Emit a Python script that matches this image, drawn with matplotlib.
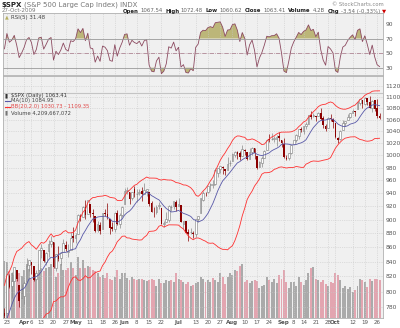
import numpy as np
import pandas as pd
import matplotlib
matplotlib.use("Agg")
import matplotlib.pyplot as plt

# closes before the visible window (Feb 13 - Mar 19 2009), only to warm up MA/BB/RSI
pre_close = [826.84, 789.17, 788.42, 778.94, 770.05, 743.33, 773.14, 764.90, 752.83,
             735.09, 700.82, 696.33, 712.87, 682.55, 683.38, 676.53, 719.60, 721.36,
             750.74, 756.55, 753.89, 778.12, 794.35, 784.04]

holidays = ['2009-04-10', '2009-05-25', '2009-07-03', '2009-09-07']

opens = [772.2, 772.3, 820.6, 806.8, 814.5, 828.7, 809.1, 790.9, 793.6, 814.5,
         835.1, 839.8, 834.1, 816.8, 829.3, 855.9, 856.9, 839.4, 854.5, 865.2,
         868.3, 831.3, 847.3, 844.6, 853.9, 862.8, 854.1, 856.9, 876.6, 872.7,
         879.2, 906.1, 903.9, 919.6, 909.0, 922.9, 910.5, 905.4, 884.2, 892.8,
         886.1, 909.7, 908.6, 900.4, 888.7, 887.0, 909.9, 892.9, 907.0, 923.3,
         942.9, 942.5, 932.5, 945.7, 938.1, 940.4, 942.7, 939.0, 943.4, 942.5,
         925.6, 911.9, 910.9, 919.9, 918.1, 893.5, 896.3, 899.5, 918.8, 919.9,
         927.1, 920.8, 921.2, 894.3, 898.6, 881.9, 881.3, 880.0, 879.6, 900.8,
         910.2, 930.2, 940.6, 942.1, 951.9, 953.4, 954.1, 972.2, 978.6, 981.5,
         977.7, 976.0, 986.8, 990.2, 1001.4, 1005.4, 1004.1, 999.8, 1008.9, 1005.8,
         994.0, 1005.9, 1012.2, 998.2, 980.6, 986.9, 996.4, 1009.1, 1026.6, 1026.6,
         1027.4, 1027.8, 1031.6, 1025.2, 1019.5, 996.1, 996.1, 1003.8, 1018.7, 1025.4,
         1032.9, 1043.9, 1040.2, 1049.0, 1053.0, 1067.9, 1066.6, 1067.1, 1066.4, 1072.7,
         1062.6, 1049.5, 1045.4, 1063.7, 1061.0, 1054.9, 1029.7, 1026.9, 1042.0, 1053.7,
         1060.0, 1065.3, 1071.6, 1074.8, 1078.7, 1090.4, 1094.7, 1088.2, 1098.6, 1091.9,
         1080.4, 1095.6, 1080.4, 1067.54]
highs = [779.0, 823.4, 823.7, 826.0, 832.9, 828.7, 809.1, 810.5, 813.6, 845.6,
         842.5, 839.8, 834.1, 828.4, 856.9, 864.3, 856.9, 852.9, 870.4, 875.6,
         868.3, 850.1, 861.8, 852.9, 871.8, 868.8, 864.5, 882.1, 888.7, 880.5,
         907.9, 907.7, 920.3, 929.6, 930.2, 922.9, 915.6, 905.4, 898.4, 896.9,
         910.0, 916.4, 924.6, 900.4, 896.7, 911.8, 913.8, 909.5, 920.0, 947.8,
         949.4, 942.5, 942.5, 951.7, 946.3, 946.9, 949.8, 956.2, 946.3, 942.5,
         928.0, 918.4, 921.9, 927.1, 918.1, 898.7, 910.9, 921.4, 922.0, 927.1,
         930.0, 931.9, 921.2, 898.7, 898.6, 886.8, 887.9, 883.6, 901.1, 905.8,
         933.0, 943.0, 941.9, 951.6, 956.5, 959.8, 979.4, 979.8, 982.5, 982.4,
         977.8, 996.7, 993.2, 1003.6, 1007.1, 1006.6, 1008.0, 1018.0, 1010.1, 1005.8,
         1012.8, 1013.1, 1012.6, 998.2, 991.2, 999.6, 1008.9, 1027.6, 1035.8, 1037.8,
         1032.5, 1033.3, 1039.5, 1025.2, 1028.5, 1000.3, 1003.4, 1016.5, 1026.1, 1036.3,
         1044.1, 1048.2, 1049.7, 1056.0, 1068.8, 1074.8, 1071.5, 1067.3, 1073.8, 1080.2,
         1066.3, 1053.5, 1065.1, 1069.6, 1063.4, 1054.9, 1030.6, 1042.6, 1060.6, 1058.0,
         1070.7, 1071.5, 1079.5, 1075.3, 1093.2, 1096.6, 1094.7, 1100.2, 1098.6, 1101.4,
         1095.2, 1095.8, 1097.4, 1072.48]
lows = [759.1, 772.3, 805.0, 791.4, 814.5, 813.4, 779.8, 790.9, 783.3, 814.5,
        826.7, 822.8, 814.5, 814.8, 829.3, 845.4, 840.1, 835.6, 847.0, 860.9,
        831.0, 826.8, 840.6, 835.6, 853.9, 854.7, 847.1, 856.9, 868.3, 866.1,
        879.2, 897.3, 903.9, 901.4, 909.0, 903.8, 896.5, 882.5, 882.5, 878.9,
        886.1, 905.2, 901.4, 879.6, 883.8, 881.5, 891.9, 887.6, 903.6, 923.3,
        938.5, 923.9, 929.3, 934.1, 926.4, 936.7, 927.4, 939.0, 935.7, 919.7,
        911.6, 903.8, 907.9, 915.8, 893.0, 888.9, 896.3, 896.3, 913.0, 916.2,
        912.9, 920.8, 896.4, 886.4, 879.9, 869.3, 878.5, 872.8, 875.3, 896.5,
        910.2, 927.5, 934.9, 940.9, 943.2, 947.8, 953.3, 965.9, 972.3, 969.4,
        968.7, 976.0, 982.9, 990.2, 996.7, 994.3, 992.5, 999.8, 1000.9, 992.4,
        993.4, 1000.8, 994.6, 978.5, 980.6, 980.6, 996.4, 1009.1, 1022.5, 1026.2,
        1021.6, 1016.2, 1023.1, 1014.6, 996.3, 991.9, 992.3, 1001.7, 1018.7, 1023.0,
        1028.0, 1038.4, 1035.0, 1043.4, 1052.9, 1061.0, 1064.3, 1057.5, 1066.4, 1060.4,
        1045.9, 1041.2, 1045.4, 1057.8, 1046.5, 1029.4, 1019.9, 1025.9, 1042.0, 1050.0,
        1060.0, 1063.0, 1071.6, 1067.0, 1078.7, 1086.4, 1081.5, 1086.1, 1086.2, 1080.8,
        1074.3, 1075.3, 1063.2, 1060.62]
closes = [768.54, 822.92, 806.12, 813.88, 832.86, 815.94, 787.53, 797.87, 811.08, 834.38,
          842.50, 835.48, 815.55, 825.16, 856.56, 858.73, 841.50, 852.06, 865.30, 869.60,
          832.39, 850.08, 843.55, 851.92, 866.23, 857.51, 855.16, 873.64, 872.81, 877.52,
          907.24, 903.80, 919.53, 907.39, 929.23, 909.24, 908.35, 883.92, 893.07, 882.88,
          909.71, 908.13, 903.47, 888.33, 887.00, 910.33, 893.06, 906.83, 919.14, 942.87,
          944.74, 931.76, 942.46, 940.09, 939.14, 942.43, 939.15, 944.89, 946.21, 923.72,
          911.97, 910.71, 918.37, 921.23, 893.04, 895.10, 900.94, 920.26, 918.90, 927.23,
          919.32, 923.33, 896.42, 898.72, 881.03, 879.56, 882.68, 879.13, 901.05, 905.84,
          932.68, 940.74, 940.38, 951.13, 954.58, 954.07, 976.29, 979.26, 982.18, 979.62,
          975.15, 986.75, 987.48, 1002.63, 1005.65, 1002.72, 997.08, 1010.48, 1007.10, 994.35,
          1005.81, 1012.73, 1004.09, 979.73, 989.67, 996.46, 1007.37, 1026.13, 1025.57, 1028.00,
          1028.12, 1030.98, 1028.93, 1020.62, 998.04, 994.75, 1003.24, 1016.40, 1025.39, 1033.37,
          1044.14, 1042.73, 1049.34, 1052.63, 1068.76, 1065.49, 1068.30, 1064.66, 1071.66, 1060.87,
          1050.78, 1044.38, 1062.98, 1060.61, 1057.08, 1029.85, 1025.21, 1040.46, 1054.72, 1057.58,
          1065.48, 1071.49, 1076.19, 1073.19, 1092.02, 1096.56, 1087.68, 1097.91, 1091.06, 1081.40,
          1092.91, 1079.60, 1066.95, 1063.41]
volume_bn = [6.4, 6.3, 5.2, 5.0, 4.8, 4.5, 5.0, 4.7, 5.3, 6.0,
             5.5, 4.4, 4.2, 5.0, 6.0, 5.6, 5.2, 5.6, 5.7, 6.0,
             5.9, 4.6, 5.0, 6.0, 5.4, 5.4, 5.6, 6.2, 5.6, 4.8,
             6.8, 5.6, 6.5, 5.6, 5.8, 5.7, 5.4, 5.2, 5.0, 4.6,
             4.8, 4.5, 5.0, 4.4, 4.2, 4.6, 5.4, 4.4, 5.0, 5.0,
             4.5, 4.2, 4.6, 4.4, 4.2, 4.3, 4.4, 4.2, 4.1, 4.2,
             4.4, 4.2, 3.6, 4.4, 3.9, 3.9, 4.2, 4.1, 4.2, 4.0,
             5.0, 4.4, 4.2, 4.0, 3.8, 4.0, 3.6, 3.7, 3.9, 4.0,
             4.6, 4.4, 4.0, 4.2, 4.0, 4.5, 4.2, 4.0, 5.0, 4.6,
             3.8, 4.6, 5.0, 4.8, 5.4, 5.2, 5.8, 6.0, 4.0, 4.2,
             3.9, 4.1, 4.2, 4.1, 3.4, 3.6, 3.7, 4.6, 4.2, 4.0,
             4.4, 3.9, 4.8, 4.4, 5.4, 4.0, 3.3, 4.0, 4.0, 3.6,
             4.6, 4.0, 3.7, 4.2, 5.0, 5.6, 5.7, 4.4, 4.2, 4.0,
             4.2, 3.8, 3.6, 4.0, 3.9, 5.0, 4.8, 4.2, 3.4, 3.6,
             3.2, 3.5, 2.9, 3.1, 3.6, 4.3, 4.2, 4.0, 3.5, 4.4,
             4.1, 4.4, 4.3, 4.21]

tick_dates = ['2009-03-23', '2009-04-01', '2009-04-06', '2009-04-13', '2009-04-20', '2009-04-27',
              '2009-05-01', '2009-05-11', '2009-05-18', '2009-05-26', '2009-06-01', '2009-06-08',
              '2009-06-15', '2009-06-22', '2009-07-01', '2009-07-13', '2009-07-20', '2009-07-27',
              '2009-08-03', '2009-08-10', '2009-08-17', '2009-08-24', '2009-09-01', '2009-09-08',
              '2009-09-14', '2009-09-21', '2009-09-28', '2009-10-01', '2009-10-12', '2009-10-19',
              '2009-10-26']
tick_labels = ['23', 'Apr', '6', '13', '20', '27', 'May', '11', '18', '26', 'Jun', '8', '15', '22',
               'Jul', '13', '20', '27', 'Aug', '10', '17', '24', 'Sep', '8', '14', '21', '28',
               'Oct', '12', '19', '26']

price_ticks = list(range(780, 1121, 20))
rsi_ticks = [30, 50, 70, 90]

days = pd.bdate_range('2009-03-20', '2009-10-27')
days = days[~days.isin(pd.to_datetime(holidays))]
n = len(days)
x = np.arange(n)
o = np.array(opens); h = np.array(highs); l = np.array(lows); c = np.array(closes)
vol = np.array(volume_bn)

# indicators as listed in the legend
allc = pd.Series(pre_close + closes)
ma10 = allc.rolling(10).mean().values[-n:]
mid = allc.rolling(20).mean()
sd = allc.rolling(20).std(ddof=0)
bb_up = (mid + 2 * sd).values[-n:]
bb_lo = (mid - 2 * sd).values[-n:]
d = allc.diff()
g = d.clip(lower=0).ewm(alpha=1 / 5, adjust=False).mean()
ls = (-d.clip(upper=0)).ewm(alpha=1 / 5, adjust=False).mean()
rsi = (100 - 100 / (1 + g / ls)).values[-n:]

pos = [days.get_loc(pd.Timestamp(t)) for t in tick_dates]

W, H = 400, 328
fig = plt.figure(figsize=(4.0, 3.28), dpi=100)
fig.patch.set_facecolor('white')
renderer = fig.canvas.get_renderer()

def rect(x0, y0, x1, y1):
    return [x0 / W, 1 - y1 / H, (x1 - x0) / W, (y1 - y0) / H]

def text_run(x0, y, parts, size, right=None):
    # lay out pieces of text one after another, in pixels
    items = []
    for tx, bold, col, gap in parts:
        t = fig.text(0, 1 - y / H, tx, fontsize=size, va='center', color=col,
                     fontweight='bold' if bold else 'normal')
        items.append((t, t.get_window_extent(renderer).width, gap))
    if right is not None:
        x0 = right - sum(w + gp for _, w, gp in items)
    xx = x0
    for t, w, gp in items:
        t.set_x(xx / W)
        xx += w + gp

bg = '#f0f0f0'
grid_c = '#c8c8c8'
lab_c = '#555555'
xl = (-0.6, n + 0.4)

# ---- RSI panel
ar = fig.add_axes(rect(3, 13, 383, 75))
ar.set_facecolor(bg)
ar.plot(x, rsi, color='#8c4a60', lw=0.6)
ar.fill_between(x, rsi, 70, where=rsi > 70, interpolate=True, color='#bcb679', lw=0)
ar.fill_between(x, rsi, 30, where=rsi < 30, interpolate=True, color='#bcb679', lw=0)
ar.axhline(70, color='#999999', lw=0.6)
ar.axhline(30, color='#999999', lw=0.6)
ar.axhline(50, color='#a07080', lw=0.5, ls='-.')
ar.set_ylim(20, 105)
ar.set_xlim(*xl)
ar.set_xticks(pos)
ar.set_xticklabels([])
ar.set_yticks(rsi_ticks)
ar.yaxis.tick_right()
ar.tick_params(length=0, labelsize=4.3, labelcolor=lab_c, pad=2)
ar.grid(axis='x', color=grid_c, lw=0.5, ls=':')
for s in ar.spines.values():
    s.set_color('#b0b0b0'); s.set_linewidth(0.6)
ar.text(0.004, 0.93, '\u25b2', transform=ar.transAxes, fontsize=3.5, color='#b5ae60', va='center')
ar.text(0.022, 0.93, 'RSI(5) 31.48', transform=ar.transAxes, fontsize=4.0, color='#444444', va='center')

# ---- volume behind the price panel
main_rect = rect(3, 76, 383, 318)
av = fig.add_axes(main_rect, zorder=0)
av.set_facecolor(bg)
dn = np.r_[False, c[1:] < c[:-1]]
av.bar(x, vol, width=0.8, color=np.where(dn, '#e3a5b0', '#aaaaaa'), lw=0)
av.set_ylim(0, 27)
av.set_xlim(*xl)
av.set_xticks([]); av.set_yticks([])
for s in av.spines.values():
    s.set_visible(False)

# ---- price panel
ax = fig.add_axes(main_rect, zorder=1)
ax.patch.set_alpha(0)
ax.set_yscale('log')
ax.set_ylim(766, 1139)
ax.set_xlim(*xl)
ax.grid(color=grid_c, lw=0.5, ls=':', zorder=0)

up = c >= o
ax.vlines(x, l, h, colors=np.where(up, '#8a8a8a', '#8b0000'), lw=0.5, zorder=2)
ax.bar(x[up], c[up] - o[up], bottom=o[up], width=0.7, facecolor='white',
       edgecolor='#7a7a7a', lw=0.4, zorder=3)
ax.bar(x[~up], o[~up] - c[~up], bottom=c[~up], width=0.7, color='#8b0000', lw=0, zorder=3)
ax.plot(x, ma10, color='#5858a8', lw=0.6, zorder=4)
ax.plot(x, bb_up, color='#ff3030', lw=0.6, zorder=4)
ax.plot(x, bb_lo, color='#ff3030', lw=0.6, zorder=4)

ax.set_yticks(price_ticks)
ax.set_yticks([], minor=True)
ax.set_yticklabels([str(v) for v in price_ticks])
ax.yaxis.tick_right()
ax.set_xticks(pos)
ax.set_xticklabels(tick_labels)
for t, lab in zip(ax.get_xticklabels(), tick_labels):
    if not lab.isdigit():
        t.set_fontweight('bold'); t.set_color('#222222')
ax.tick_params(length=0, labelsize=4.3, labelcolor=lab_c, pad=2)
ax.tick_params(axis='x', labelsize=4.0, pad=1.5)
for s in ax.spines.values():
    s.set_color('#b0b0b0'); s.set_linewidth(0.6)
ax.plot([0, 1], [0.93, 0.93], transform=ax.transAxes, color='#c4c4c4', lw=0.8, zorder=1)

# legend block
ly = [0.919, 0.897, 0.873, 0.848]
ax.text(0.004, ly[0], '\u25ae', transform=ax.transAxes, fontsize=4, color='#333333', va='center')
ax.plot([0.004, 0.018], [ly[1], ly[1]], transform=ax.transAxes, color='#5858a8', lw=0.8)
ax.plot([0.004, 0.018], [ly[2], ly[2]], transform=ax.transAxes, color='#ff3030', lw=0.8)
ax.text(0.004, ly[3], '\u25ae', transform=ax.transAxes, fontsize=4, color='#777777', va='center')
legend_txt = ['$SPX (Daily) 1063.41', 'MA(10) 1084.95', 'BB(20,2.0) 1030.73 - 1109.35',
              'Volume 4,209,667,072']
legend_col = ['#333333', '#444444', '#e04848', '#444444']
for yy, tx, cc in zip(ly, legend_txt, legend_col):
    ax.text(0.022, yy, tx, transform=ax.transAxes, fontsize=3.8, color=cc, va='center')

# ---- header
text_run(2, 5, [('$SPX', True, '#222222', 2), ('(S&P 500 Large Cap Index) INDX', False, '#777777', 0)], 5.0)
fig.text(2 / W, 1 - 11 / H, '27-Oct-2009', fontsize=4.0, color='#777777', va='center')
fig.text(384 / W, 1 - 4 / H, '\u00a9 StockCharts.com', fontsize=3.8, color='#888888',
         va='center', ha='right')
B, G = '#222222', '#666666'
text_run(0, 11, [('Open', True, B, 1.5), ('1067.54', False, G, 3), ('High', True, B, 1.5),
                 ('1072.48', False, G, 3), ('Low', True, B, 1.5), ('1060.62', False, G, 3),
                 ('Close', True, B, 1.5), ('1063.41', False, G, 3), ('Volume', True, B, 1.5),
                 ('4.2B', False, G, 3), ('Chg', True, B, 1.5), ('-3.54 (-0.33%)', False, G, 2),
                 ('\u25bc', False, '#cc0000', 0)], 3.9, right=386)

fig.savefig('out.png', dpi=100)
